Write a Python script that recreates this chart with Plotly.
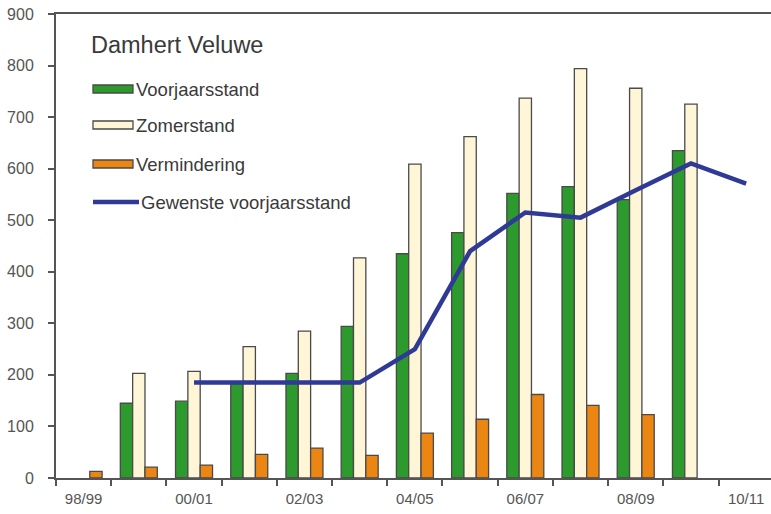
import plotly.graph_objects as go

categories = ["98/99", "99/00", "00/01", "01/02", "02/03", "03/04", "04/05",
              "05/06", "06/07", "07/08", "08/09", "09/10", "10/11"]
voorjaarsstand = [None, 145, 149, 183, 203, 294, 435, 476, 552, 565, 540, 635, None]
zomerstand = [None, 203, 207, 255, 285, 427, 609, 662, 737, 794, 756, 725, None]
vermindering = [13, 21, 25, 46, 58, 44, 87, 114, 162, 141, 123, None, None]
gewenst_cats = ["00/01", "01/02", "02/03", "03/04", "04/05", "05/06", "06/07",
                "07/08", "08/09", "09/10", "10/11"]
gewenst = [185, 185, 185, 185, 250, 440, 515, 505, 558, 610, 571]
tick_labels = [c if i % 2 == 0 else "" for i, c in enumerate(categories)]

GREEN = "#2c9a2c"
CREAM = "#fff6d8"
ORANGE = "#ec8612"
BLUE = "#2f3a96"
OUTLINE = "#4a4a4a"
FONT = "Liberation Sans, Arial, sans-serif"

fig = go.Figure()
fig.add_bar(x=categories, y=voorjaarsstand, name="Voorjaarsstand",
            marker=dict(color=GREEN, line=dict(color=OUTLINE, width=1.3)))
fig.add_bar(x=categories, y=zomerstand, name="Zomerstand",
            marker=dict(color=CREAM, line=dict(color=OUTLINE, width=1.3)))
fig.add_bar(x=categories, y=vermindering, name="Vermindering",
            marker=dict(color=ORANGE, line=dict(color=OUTLINE, width=1.3)))
fig.add_scatter(x=gewenst_cats, y=gewenst, name="Gewenste voorjaarsstand",
                mode="lines", line=dict(color=BLUE, width=4.5))

W, H = 771, 514
L, R, T, B = 56, 0, 14, 36
pw, ph = W - L - R, H - T - B


def px(x):
    return (x - L) / pw


def py(y):
    return (H - B - y) / ph


shapes = []
annotations = []
legend_items = [("Voorjaarsstand", GREEN, 89, "bar"),
                ("Zomerstand", CREAM, 125, "bar"),
                ("Vermindering", ORANGE, 164, "bar"),
                ("Gewenste voorjaarsstand", BLUE, 202, "line")]
for name, color, yc, kind in legend_items:
    if kind == "bar":
        shapes.append(dict(type="rect", xref="paper", yref="paper",
                           x0=px(93), x1=px(133), y0=py(yc - 4), y1=py(yc + 4),
                           fillcolor=color, line=dict(color=OUTLINE, width=1.3)))
        tx = 134
    else:
        shapes.append(dict(type="line", xref="paper", yref="paper",
                           x0=px(93), x1=px(139), y0=py(yc), y1=py(yc),
                           line=dict(color=color, width=4.5)))
        tx = 139
    annotations.append(dict(xref="paper", yref="paper", x=px(tx), y=py(yc),
                            xanchor="left", yanchor="middle", showarrow=False,
                            text=name, font=dict(family=FONT, size=18.5, color="#3a3a3a")))
annotations.append(dict(xref="paper", yref="paper", x=px(89), y=py(45),
                        xanchor="left", yanchor="middle", showarrow=False,
                        text="Damhert Veluwe",
                        font=dict(family=FONT, size=23.5, color="#3a3a3a")))

fig.update_layout(
    width=W, height=H,
    margin=dict(l=L, r=R, t=T, b=B, pad=0, autoexpand=False),
    paper_bgcolor="white", plot_bgcolor="white",
    barmode="group", bargap=0.33, bargroupgap=0,
    showlegend=False,
    font=dict(family=FONT, size=15, color="#555"),
    shapes=shapes, annotations=annotations,
)
fig.update_xaxes(type="category", categoryorder="array", categoryarray=categories,
                 range=[-0.5, 12.45], tickmode="array", tickvals=categories,
                 ticktext=tick_labels, tickson="boundaries",
                 ticks="outside", ticklen=6, tickwidth=1.5, tickcolor="#555",
                 showline=True, linecolor="#555", linewidth=2, mirror=True,
                 showgrid=False, zeroline=False, automargin=False,
                 ticklabelstandoff=6,
                 tickfont=dict(family=FONT, size=15, color="#555"))
fig.update_yaxes(range=[0, 900], dtick=100, ticks="outside", ticklen=6,
                 tickwidth=1.5, tickcolor="#555",
                 showline=True, linecolor="#555", linewidth=2,
                 showgrid=False, zeroline=False, automargin=False,
                 ticklabelstandoff=11,
                 tickfont=dict(family=FONT, size=16, color="#555"))

fig.write_html("out.html",
               config={"displayModeBar": False},
               post_script="document.body.style.margin='0';document.body.style.padding='0';")
